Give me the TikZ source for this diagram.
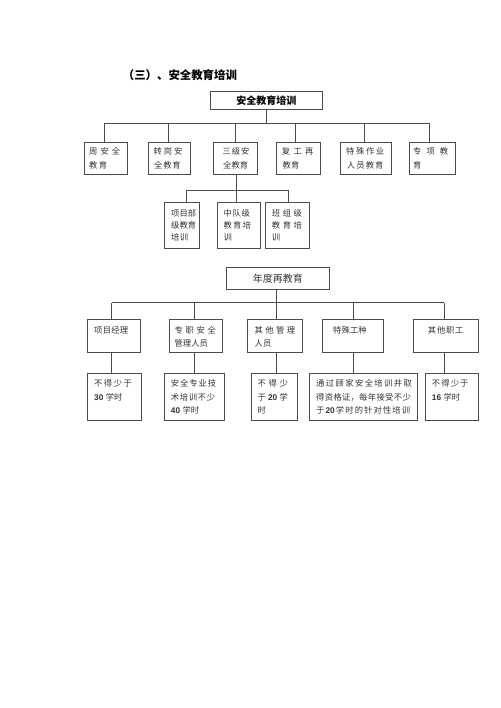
\documentclass[tikz,border=0pt]{standalone}
\usepackage{fontspec}
\setmainfont{Noto Sans CJK SC}
\newfontfamily\dgf{Liberation Sans}
\usetikzlibrary{calc}
\definecolor{linec}{gray}{0.3}
\definecolor{txtc}{gray}{0.2}
\tikzset{
  boxst/.style={draw=linec, line width=0.9pt, inner sep=0pt},
  conn/.style={draw=linec, line width=0.9pt},
  txt/.style={inner sep=0pt, anchor=west, text=txtc, font=\fontsize{8.3}{10}\selectfont, text height=7.3pt, text depth=1pt}
}
\newcommand\bx[7][]{\node[boxst,anchor=north west,minimum width={#5pt-#3pt},minimum height={#6pt-#4pt},#1] (#2) at (#3,#4) {#7};}
\newcommand\spt[5]{\node[txt] (#1) at (#2,#3) {\makebox[#4pt][s]{#5}};}
\newcommand\nat[4]{\node[txt] (#1) at (#2,#3) {#4};}
\newcommand\dg[1]{{\dgf\bfseries #1}\hspace{2.5pt}}
\begin{document}
\begin{tikzpicture}[x=1pt,y=-1pt]
\useasboundingbox (0,0) rectangle (500,708);
% title
\node[anchor=west, inner sep=0pt, font=\bfseries\fontsize{11.4}{13}\selectfont] (title) at (122.7,75) {（三）、安全教育培训};
% top box
\bx[font=\bfseries\fontsize{10}{12}\selectfont]{T}{210}{91}{322}{109}{安全教育培训}
% row 1
\bx{a1}{84}{142}{127}{174}{}
\bx{a2}{148}{142}{190}{174}{}
\bx{a3}{213}{142}{257}{174}{}
\bx{a4}{276}{142}{320}{174}{}
\bx{a5}{340}{142}{391}{174}{}
\bx{a6}{409}{142}{455}{174}{}
% sub row
\bx{b1}{164}{202}{199}{248}{}
\bx{b2}{217}{202}{260}{248}{}
\bx{b3}{265}{202}{309}{248}{}
% lower top
\bx[font=\fontsize{10}{12}\selectfont, text=txtc]{L}{226}{267}{329}{289}{年度再教育}
% row 2
\bx{c1}{87}{319}{140}{352}{}
\bx{c2}{169}{319}{222}{352}{}
\bx{c3}{247}{319}{302}{352}{}
\bx{c4}{322}{319}{383}{352}{}
\bx{c5}{413}{319}{478}{352}{}
% row 3
\bx{d1}{87}{373}{141}{420}{}
\bx{d2}{164}{373}{224}{420}{}
\bx{d3}{251}{373}{297}{420}{}
\bx{d4}{309}{373}{417}{420}{}
\bx{d5}{425}{373}{478}{420}{}
% connectors top
\coordinate (ja1) at (104,123);
\coordinate (ja2) at (168.7,123);
\coordinate (ja3) at (235.7,123);
\coordinate (ja4) at (295.7,123);
\coordinate (ja5) at (364.3,123);
\coordinate (ja6) at (429.3,123);
\draw[conn] (T.south) -- (T.south |- ja1);
\draw[conn] (ja1) -- (ja6);
\draw[conn] (ja1) -- (ja1 |- a1.north);
\draw[conn] (ja2) -- (ja2 |- a2.north);
\draw[conn] (ja3) -- (ja3 |- a3.north);
\draw[conn] (ja4) -- (ja4 |- a4.north);
\draw[conn] (ja5) -- (ja5 |- a5.north);
\draw[conn] (ja6) -- (ja6 |- a6.north);
% sub connectors
\coordinate (jb1) at (186,190);
\coordinate (jb2) at (236,190);
\coordinate (jb3) at (288,190);
\draw[conn] (a3.south -| jb2) -- (jb2 |- b2.north);
\draw[conn] (jb1) -- (jb3);
\draw[conn] (jb1) -- (jb1 |- b1.north);
\draw[conn] (jb3) -- (jb3 |- b3.north);
% lower connectors
\coordinate (jc1) at (111.7,302.5);
\coordinate (jc2) at (194.5,302.5);
\coordinate (jc3) at (276.5,302.5);
\coordinate (jc4) at (353,302.5);
\coordinate (jc5) at (444.3,302.5);
\draw[conn] (L.south -| jc3) -- (jc3);
\draw[conn] (jc1) -- (jc5);
\foreach \i in {1,...,5}{
  \draw[conn] (jc\i) -- (jc\i |- c\i.north);
  \draw[conn] (jc\i |- c\i.south) -- (jc\i |- d\i.north);
}
% row 1 texts
\spt{a1x}{89}{151.5}{31}{周\hfill 安\hfill 全}
\spt{a1y}{89}{165}{18}{教\hfill 育}
\spt{a2x}{153.3}{151.5}{29}{转\hfill 岗\hfill 安}
\spt{a2y}{154}{165}{26.5}{全\hfill 教\hfill 育}
\spt{a3x}{222.3}{151.5}{27}{三\hfill 级\hfill 安}
\spt{a3y}{223}{165}{25}{全\hfill 教\hfill 育}
\spt{a4x}{281.7}{151.5}{31.6}{复\hfill 工\hfill 再}
\spt{a4y}{282.3}{165}{17}{教\hfill 育}
\spt{a5x}{346}{151.5}{38}{特\hfill 殊\hfill 作\hfill 业}
\spt{a5y}{346.7}{165}{36.6}{人\hfill 员\hfill 教\hfill 育}
\spt{a6x}{413}{151.5}{35}{专\hfill 项\hfill 教}
\nat{a6y}{413}{165}{育}
% sub texts
\spt{b1x}{171}{213}{25}{项\hfill 目\hfill 部}
\spt{b1y}{171}{225.3}{25}{级\hfill 教\hfill 育}
\spt{b1z}{171}{237.5}{17}{培\hfill 训}
\spt{b2x}{223.3}{213}{26.5}{中\hfill 队\hfill 级}
\spt{b2y}{223.3}{225.3}{27.4}{教\hfill 育\hfill 培}
\nat{b2z}{223.3}{237.5}{训}
\spt{b3x}{271.7}{213}{30}{班\hfill 组\hfill 级}
\spt{b3y}{271.7}{225.3}{30}{教\hfill 育\hfill 培}
\nat{b3z}{271.7}{237.5}{训}
% row 2 texts
\spt{c1x}{94}{330.7}{34}{项\hfill 目\hfill 经\hfill 理}
\spt{c2x}{174.3}{330.7}{41.4}{专\hfill 职\hfill 安\hfill 全}
\spt{c2y}{174.3}{343.5}{33.5}{管\hfill 理\hfill 人\hfill 员}
\spt{c3x}{254.3}{330.7}{40.7}{其\hfill 他\hfill 管\hfill 理}
\spt{c3y}{254.3}{343.5}{17}{人\hfill 员}
\spt{c4x}{333}{330.7}{33.5}{特\hfill 殊\hfill 工\hfill 种}
\spt{c5x}{427.7}{330.7}{35.6}{其\hfill 他\hfill 职\hfill 工}
% row 3 texts
\spt{d1x}{94}{383.5}{37.7}{不\hfill 得\hfill 少\hfill 于}
\nat{d1y}{94}{397}{\dg{30}学时}
\spt{d2x}{170.7}{383.5}{45.3}{安\hfill 全\hfill 专\hfill 业\hfill 技}
\spt{d2y}{170.7}{397}{44.3}{术\hfill 培\hfill 训\hfill 不\hfill 少}
\nat{d2z}{170.7}{410.3}{\dg{40}学时}
\spt{d3x}{257.3}{383.5}{30.4}{不\hfill 得\hfill 少}
\spt{d3y}{257.3}{397}{30.4}{于\hfill{\dgf\bfseries 20}\hfill 学}
\nat{d3z}{257.3}{410.3}{时}
\spt{d4x}{316}{383.5}{95.7}{通\hfill 过\hfill 顾\hfill 家\hfill 安\hfill 全\hfill 培\hfill 训\hfill 并\hfill 取}
\spt{d4y}{316}{397}{94.7}{得\hfill 资\hfill 格\hfill 证，\hfill 每\hfill 年\hfill 接\hfill 受\hfill 不\hfill 少}
\spt{d4z}{316}{410.3}{94}{于\hfill{\dgf\bfseries 20}\hfill 学\hfill 时\hfill 的\hfill 针\hfill 对\hfill 性\hfill 培\hfill 训}
\spt{d5x}{431.7}{383.5}{36.6}{不\hfill 得\hfill 少\hfill 于}
\nat{d5y}{431.7}{397}{\dg{16}学时}
\end{tikzpicture}
\end{document}
